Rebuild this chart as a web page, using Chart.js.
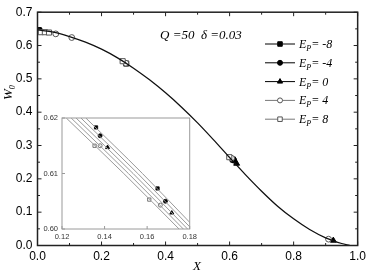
<!DOCTYPE html>
<html>
<head>
<meta charset="utf-8">
<script src="https://cdn.jsdelivr.net/npm/chart.js@4.4.0/dist/chart.umd.min.js"></script>
<style>
  html, body { margin: 0; padding: 0; background: #fff; }
  #wrap { position: relative; width: 370px; height: 271px; }
  #main { position: absolute; left: 0; top: 0; }
  #inset { position: absolute; left: 30px; top: 108px; }
</style>
</head>
<body>
<div id="wrap">
  <canvas id="main" width="370" height="271"></canvas>
  <canvas id="inset" width="170" height="140"></canvas>
</div>
<script>
// Main curve (the five E_P curves coincide at this scale)
const curveX = [0, 0.05, 0.1, 0.15, 0.2, 0.25, 0.3, 0.35, 0.4, 0.45, 0.5, 0.55, 0.6, 0.65, 0.7, 0.75, 0.8, 0.85, 0.9, 0.95, 0.975];
const curveW = [0.647, 0.640, 0.627, 0.610, 0.589, 0.563, 0.532, 0.497, 0.458, 0.415, 0.368, 0.317, 0.264, 0.212, 0.163, 0.118, 0.080, 0.048, 0.023, 0.006, 0.0];

// Series labels
const epValues = ['-8', '-4', '0', '4', '8'];

// Markers in the main plot, per series
const markX = [
  [0.004, 0.277, 0.610],
  [0.007, 0.613],
  [0.622, 0.924],
  [0.057, 0.107, 0.276, 0.606, 0.909],
  [0.010, 0.023, 0.036, 0.266, 0.599]
];
const markW = [
  [0.646, 0.546, 0.258],
  [0.645, 0.256],
  [0.246, 0.015],
  [0.635, 0.624, 0.547, 0.262, 0.019],
  [0.640, 0.640, 0.639, 0.553, 0.265]
];

// Inset: each curve given by X at these W levels
const insetLevels = [0.62, 0.61, 0.60];
const insetLineX = [
  [0.1312, 0.1578, 0.1830],
  [0.1289, 0.1556, 0.1810],
  [0.1266, 0.1534, 0.1790],
  [0.1243, 0.1512, 0.1770],
  [0.1220, 0.1490, 0.1750]
];
// Inset markers
const insetMarkX = [
  [0.1360, 0.1649],
  [0.1379, 0.1686],
  [0.1414, 0.1716],
  [0.1379, 0.1662],
  [0.1353, 0.1610]
];
const insetMarkW = [
  [0.6183, 0.6073],
  [0.6168, 0.6050],
  [0.6147, 0.6029],
  [0.6150, 0.6043],
  [0.6150, 0.6053]
];

// Tick values
const xTicksMain = [0, 0.2, 0.4, 0.6, 0.8, 1.0];
const xMinorMain = [0.1, 0.3, 0.5, 0.7, 0.9];
const yTicksMain = [0, 0.1, 0.2, 0.3, 0.4, 0.5, 0.6, 0.7];
const yMinorMain = [0.05, 0.15, 0.25, 0.35, 0.45, 0.55, 0.65];
const xTicksInset = [0.12, 0.14, 0.16, 0.18];
const yTicksInset = [0.60, 0.61, 0.62];

// marker styles per series
const styles = [
  { pointStyle: 'rect', fill: '#000', stroke: '#000', line: '#000' },
  { pointStyle: 'circle', fill: '#000', stroke: '#000', line: '#000' },
  { pointStyle: 'triangle', fill: '#000', stroke: '#000', line: '#000' },
  { pointStyle: 'circle', fill: '#fff', stroke: '#555', line: '#777' },
  { pointStyle: 'rect', fill: '#fff', stroke: '#555', line: '#777' }
];
const sizeMain = { rect: 3.6, circle: 2.9, triangle: 3.4 };
const sizeInset = { rect: 2.3, circle: 2.0, triangle: 2.4 };

const sansFont = { family: "'Liberation Sans', Arial, sans-serif", size: 12 };
const serif = "'Liberation Serif', 'Times New Roman', serif";

function toPoints(xs, ys) {
  return xs.map((x, i) => ({ x: x, y: ys[i] }));
}

// Main datasets
const mainDatasets = [{
  data: toPoints(curveX, curveW),
  showLine: true,
  borderColor: '#111',
  borderWidth: 1.3,
  pointRadius: 0,
  cubicInterpolationMode: 'monotone'
}];
// draw open markers first, filled ones on top
[4, 3, 0, 1, 2].forEach(i => {
  mainDatasets.push({
    data: toPoints(markX[i], markW[i]),
    showLine: false,
    pointStyle: styles[i].pointStyle,
    pointRadius: sizeMain[styles[i].pointStyle],
    pointBackgroundColor: styles[i].fill,
    pointBorderColor: styles[i].stroke,
    pointBorderWidth: 1
  });
});

function drawSubText(ctx, x, y, base, sub, rest, size) {
  ctx.font = 'italic ' + size + 'px ' + serif;
  ctx.fillText(base, x, y);
  x += ctx.measureText(base).width;
  ctx.font = 'italic ' + Math.round(size * 0.65) + 'px ' + serif;
  ctx.fillText(sub, x, y + 3);
  x += ctx.measureText(sub).width;
  if (rest) {
    ctx.font = 'italic ' + size + 'px ' + serif;
    ctx.fillText(rest, x, y);
  }
}

const mainDecor = {
  id: 'mainDecor',
  afterDraw(chart) {
    const ctx = chart.ctx;
    const a = chart.chartArea;
    const xs = chart.scales.x, ys = chart.scales.y;
    ctx.save();
    // frame
    ctx.strokeStyle = '#222';
    ctx.lineWidth = 1.5;
    ctx.strokeRect(a.left, a.top, a.right - a.left, a.bottom - a.top);
    // inward ticks
    ctx.lineWidth = 1;
    ctx.beginPath();
    xTicksMain.forEach(v => { const p = xs.getPixelForValue(v); ctx.moveTo(p, a.bottom); ctx.lineTo(p, a.bottom - 4); ctx.moveTo(p, a.top); ctx.lineTo(p, a.top + 4); });
    xMinorMain.forEach(v => { const p = xs.getPixelForValue(v); ctx.moveTo(p, a.bottom); ctx.lineTo(p, a.bottom - 2.5); ctx.moveTo(p, a.top); ctx.lineTo(p, a.top + 2.5); });
    yTicksMain.forEach(v => { const p = ys.getPixelForValue(v); ctx.moveTo(a.left, p); ctx.lineTo(a.left + 4, p); ctx.moveTo(a.right, p); ctx.lineTo(a.right - 4, p); });
    yMinorMain.forEach(v => { const p = ys.getPixelForValue(v); ctx.moveTo(a.left, p); ctx.lineTo(a.left + 2.5, p); ctx.moveTo(a.right, p); ctx.lineTo(a.right - 2.5, p); });
    ctx.stroke();

    // legend
    ctx.fillStyle = '#000';
    ctx.textBaseline = 'alphabetic';
    epValues.forEach((ep, i) => {
      const y = 44 + i * 18.8;
      const st = styles[i];
      ctx.strokeStyle = st.line;
      ctx.lineWidth = 1;
      ctx.beginPath();
      ctx.moveTo(265, y); ctx.lineTo(295, y);
      ctx.stroke();
      ctx.fillStyle = st.fill;
      ctx.strokeStyle = st.stroke;
      Chart.helpers.drawPoint(ctx, { pointStyle: st.pointStyle, radius: sizeMain[st.pointStyle] - 0.4, borderWidth: 1, rotation: 0 }, 280, y);
      ctx.fillStyle = '#000';
      drawSubText(ctx, 299, y + 4, 'E', 'P', '= ' + ep, 12);
    });

    // parameters
    ctx.fillStyle = '#000';
    ctx.font = 'italic 13px ' + serif;
    ctx.fillText('Q =50  \u03B4 =0.03', 160, 39);

    // axis titles
    ctx.font = 'italic 13px ' + serif;
    ctx.textAlign = 'center';
    ctx.fillText('X', 197, 270);
    ctx.save();
    ctx.translate(12, 100);
    ctx.rotate(-Math.PI / 2);
    ctx.textAlign = 'left';
    drawSubText(ctx, 0, 0, 'W', '0', '', 13);
    ctx.restore();
    ctx.restore();
  }
};

new Chart(document.getElementById('main'), {
  type: 'scatter',
  data: { datasets: mainDatasets },
  options: {
    responsive: false,
    animation: false,
    layout: { padding: { top: 5, right: 8, left: 0, bottom: 0 } },
    plugins: { legend: { display: false }, tooltip: { enabled: false } },
    scales: {
      x: {
        type: 'linear', min: 0, max: 1,
        afterFit: s => { s.height = 25.5; },
        afterBuildTicks: s => { s.ticks = xTicksMain.map(v => ({ value: v })); },
        ticks: { padding: 4, font: sansFont, color: '#000', maxRotation: 0, autoSkip: false, callback: v => v.toFixed(1) },
        grid: { display: false, drawTicks: false },
        border: { display: false }
      },
      y: {
        type: 'linear', min: 0, max: 0.7,
        afterFit: s => { s.width = 37.5; },
        afterBuildTicks: s => { s.ticks = yTicksMain.map(v => ({ value: v })); },
        ticks: { padding: 5, font: sansFont, color: '#000', autoSkip: false, callback: v => v.toFixed(1) },
        grid: { display: false, drawTicks: false },
        border: { display: false }
      }
    }
  },
  plugins: [mainDecor]
});

// Inset
const insetDatasets = [];
for (let i = 0; i < 5; i++) {
  insetDatasets.push({
    data: insetLineX[i].map((x, k) => ({ x: x, y: insetLevels[k] })),
    showLine: true,
    borderColor: '#999',
    borderWidth: 1,
    pointRadius: 0,
    cubicInterpolationMode: 'monotone'
  });
}
[4, 3, 0, 1, 2].forEach(i => {
  insetDatasets.push({
    data: toPoints(insetMarkX[i], insetMarkW[i]),
    showLine: false,
    pointStyle: styles[i].pointStyle,
    pointRadius: sizeInset[styles[i].pointStyle],
    pointBackgroundColor: styles[i].fill,
    pointBorderColor: styles[i].stroke,
    pointBorderWidth: 0.8
  });
});

const insetFont = { family: "'Liberation Sans', Arial, sans-serif", size: 7.5 };

const insetDecor = {
  id: 'insetDecor',
  beforeDatasetsDraw(chart) {
    const ctx = chart.ctx, a = chart.chartArea;
    ctx.save();
    ctx.fillStyle = '#fff';
    ctx.fillRect(a.left, a.top, a.right - a.left, a.bottom - a.top);
    ctx.restore();
  },
  afterDraw(chart) {
    const ctx = chart.ctx, a = chart.chartArea;
    const xs = chart.scales.x, ys = chart.scales.y;
    ctx.save();
    ctx.strokeStyle = '#9a9a9a';
    ctx.lineWidth = 1;
    ctx.strokeRect(a.left, a.top, a.right - a.left, a.bottom - a.top);
    ctx.beginPath();
    xTicksInset.forEach(v => { const p = xs.getPixelForValue(v); ctx.moveTo(p, a.bottom); ctx.lineTo(p, a.bottom - 3); });
    yTicksInset.forEach(v => { const p = ys.getPixelForValue(v); ctx.moveTo(a.left, p); ctx.lineTo(a.left + 3, p); });
    ctx.stroke();
    ctx.restore();
  }
};

new Chart(document.getElementById('inset'), {
  type: 'scatter',
  data: { datasets: insetDatasets },
  options: {
    responsive: false,
    animation: false,
    layout: { padding: { top: 10, right: 8, left: 0, bottom: 0 } },
    plugins: { legend: { display: false }, tooltip: { enabled: false } },
    scales: {
      x: {
        type: 'linear', min: 0.12, max: 0.18,
        afterFit: s => { s.height = 19; },
        afterBuildTicks: s => { s.ticks = xTicksInset.map(v => ({ value: v })); },
        ticks: { padding: 3, font: insetFont, color: '#333', maxRotation: 0, autoSkip: false, callback: v => v.toFixed(2) },
        grid: { display: false, drawTicks: false },
        border: { display: false }
      },
      y: {
        type: 'linear', min: 0.60, max: 0.62,
        afterFit: s => { s.width = 32; },
        afterBuildTicks: s => { s.ticks = yTicksInset.map(v => ({ value: v })); },
        ticks: { padding: 4, font: insetFont, color: '#333', autoSkip: false, callback: v => v.toFixed(2) },
        grid: { display: false, drawTicks: false },
        border: { display: false }
      }
    }
  },
  plugins: [insetDecor]
});
</script>
</body>
</html>
